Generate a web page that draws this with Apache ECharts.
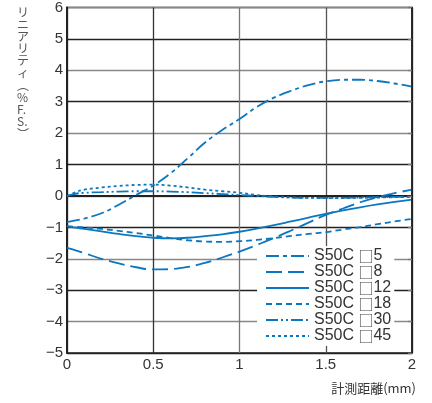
<!DOCTYPE html>
<html><head><meta charset="utf-8">
<script src="https://cdn.jsdelivr.net/npm/echarts@6/dist/echarts.min.js"></script>
<style>html,body{margin:0;padding:0;background:#fff}#c{width:432px;height:403px}</style>
</head><body><div id="c"></div>
<script>
const xs = [0,0.05,0.1,0.2,0.3,0.4,0.5,0.6,0.7,0.8,0.9,1.0,1.1,1.2,1.3,1.4,1.5,1.6,1.7,1.8,1.9,2.0];
const s5  = [-0.83,-0.78,-0.72,-0.55,-0.28,0.03,0.33,0.72,1.2,1.7,2.1,2.45,2.83,3.13,3.35,3.53,3.65,3.7,3.7,3.66,3.58,3.48];
const s8  = [-1.65,-1.73,-1.82,-2.0,-2.15,-2.27,-2.34,-2.33,-2.26,-2.13,-1.96,-1.77,-1.56,-1.34,-1.1,-0.85,-0.6,-0.4,-0.2,-0.04,0.09,0.2];
const s12 = [-0.97,-1.01,-1.05,-1.13,-1.21,-1.28,-1.33,-1.35,-1.33,-1.28,-1.22,-1.14,-1.04,-0.93,-0.81,-0.69,-0.57,-0.46,-0.36,-0.27,-0.19,-0.12];
const s18 = [-0.96,-0.98,-1.0,-1.05,-1.11,-1.18,-1.26,-1.34,-1.41,-1.45,-1.46,-1.44,-1.4,-1.34,-1.27,-1.21,-1.15,-1.07,-0.99,-0.9,-0.81,-0.73];
const s30 = [0,0.07,0.1,0.12,0.14,0.15,0.15,0.14,0.12,0.09,0.06,0.03,0,-0.03,-0.05,-0.06,-0.06,-0.06,-0.05,-0.04,-0.03,-0.02];
const s45 = [0,0.12,0.2,0.27,0.32,0.35,0.36,0.33,0.27,0.2,0.15,0.1,0.03,-0.02,-0.05,-0.06,-0.07,-0.07,-0.06,-0.05,-0.04,-0.03];
const seriesNames = ['S50C □5','S50C □8','S50C □12','S50C □18','S50C □30','S50C □45'];
const dashes = [[13,4,4,4],[16,6],'solid',[6,4],[12,3,2,3,2,3],[3,3]];
const yName = 'リ\nニ\nア\nリ\nテ\nィ\n︵\n%\nF.\nS.\n︶';
const xName = '計測距離(mm)';

const color = '#0a77c0';
const all = [s5,s8,s12,s18,s30,s45];
const chart = echarts.init(document.getElementById('c'), null, {renderer:'canvas'});
const fmt = v => String(v).replace('-', '−');
chart.setOption({
  animation:false,
  textStyle:{fontFamily:'Liberation Sans, Arial, sans-serif'},
  grid:{left:67,right:20,top:7,bottom:50,show:true,borderColor:'#222',borderWidth:1.5,backgroundColor:'transparent'},
  legend:{
    orient:'vertical', left:257, top:246, padding:[2,3,2,8],
    backgroundColor:'#fff', itemWidth:43, itemHeight:14, itemGap:0, itemTextGap:5,
    itemStyle:{opacity:0},
    formatter: n => { const p = n.split('□'); return '{a|' + p[0] + '}{b|□}{a|' + p[1] + '}'; },
    textStyle:{fontSize:16,color:'#333',lineHeight:16,fontFamily:'Liberation Sans, Arial, sans-serif',
      rich:{a:{fontSize:16,color:'#333',lineHeight:16,fontFamily:'Liberation Sans, Arial, sans-serif'},
            b:{fontSize:15,color:'#444',lineHeight:16,fontFamily:'Noto Sans CJK JP'}}},
    data:seriesNames
  },
  xAxis:{type:'value',min:0,max:2,interval:0.5,
    axisLine:{show:true,lineStyle:{color:'#222',width:2}},
    axisTick:{show:false},
    axisLabel:{fontSize:15,color:'#333',margin:4,formatter:fmt},
    splitLine:{show:true,lineStyle:{color:['#222','#333','#777','#555','#222'],width:1.3}}
  },
  yAxis:[{type:'value',min:-5,max:6,interval:1,
    axisLine:{show:true,lineStyle:{color:'#222',width:2}},
    axisTick:{show:false},
    axisLabel:{fontSize:15,color:'#333',margin:4,formatter:fmt},
    splitLine:{show:true,lineStyle:{color:['#222','#888'],width:1.3}}
  },{type:'value',min:-5,max:6,interval:1,position:'right',z:10,
    axisLine:{show:true,lineStyle:{color:'#222',width:1.5}},
    axisTick:{show:true,inside:true,length:4,lineStyle:{color:'#777',width:1.3}},
    axisLabel:{show:false},splitLine:{show:false}
  }],
  series: all.map((arr,i)=>({
    name:seriesNames[i], type:'line', smooth:0.4, symbol:'none', showSymbol:false,
    data: xs.map((x,j)=>[x,arr[j]]),
    lineStyle:{color:color,width:1.8,type:dashes[i]},
    itemStyle:{color:color}
  })),
  graphic:[
    {type:'text',left:17,top:6,style:{text:yName,fontSize:12,lineHeight:12.2,fill:'#555',align:'center',fontFamily:'Noto Sans CJK JP'}},
    {type:'text',right:16,top:382,style:{text:xName,fontSize:13,fill:'#333',fontFamily:'Noto Sans CJK JP'}}
  ]
});
</script></body></html>
